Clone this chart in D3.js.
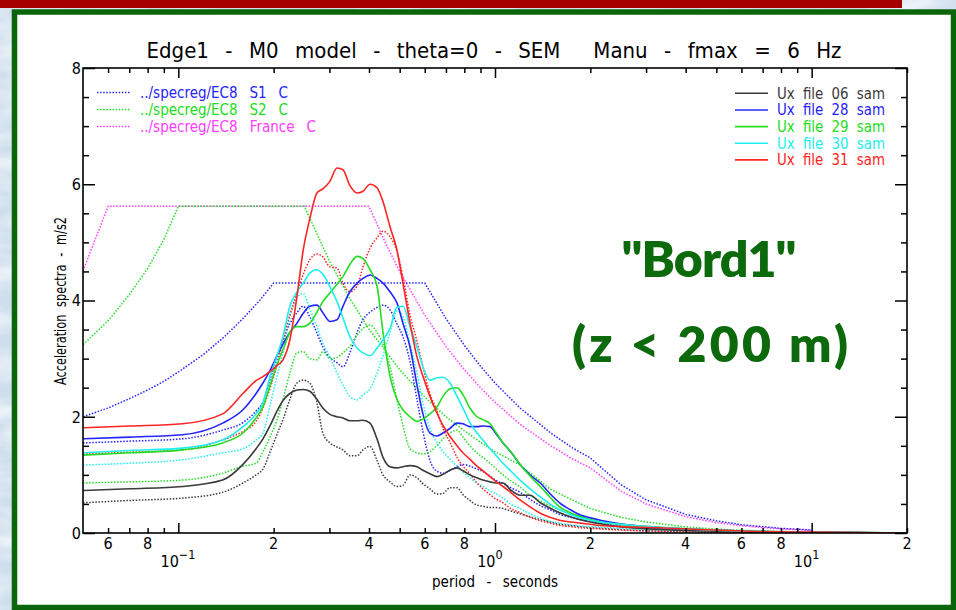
<!DOCTYPE html>
<html>
<head>
<meta charset="utf-8">
<script src="https://cdn.jsdelivr.net/npm/d3@7/dist/d3.min.js"></script>
<style>
  html, body { margin: 0; padding: 0; background: #d6e4f1; }
  svg { display: block; }
</style>
</head>
<body>
<svg id="chart" width="956" height="610"></svg>
<script>
// ---------------------------------------------------------------
// Response spectra, Edge1 / M0 model, receivers 06, 28, 29, 30, 31
// ---------------------------------------------------------------

// Period grid (s) shared by the computed spectra
const periods = [
  0.05, 0.0703, 0.103, 0.138, 0.160, 0.176, 0.185, 0.195, 0.205, 0.214,
  0.225, 0.237, 0.248, 0.260, 0.274, 0.286, 0.301, 0.317, 0.331, 0.348,
  0.367, 0.383, 0.403, 0.424, 0.443, 0.466, 0.490, 0.512, 0.539, 0.567,
  0.592, 0.623, 0.656, 0.685, 0.721, 0.759, 0.792, 0.833, 0.877, 0.916,
  0.964, 1.01, 1.06, 1.12, 1.20, 1.29, 1.39, 1.49, 1.60, 1.73,
  1.86, 2.00, 2.15, 2.48, 2.87, 3.32, 4.44, 6.38, 10.0, 20.0
];

// Solid = first component, dotted = second component (m/s2)
const s06 = [
  0.73, 0.76, 0.80, 0.91, 1.18, 1.45, 1.62, 1.85, 2.10, 2.28,
  2.40, 2.46, 2.47, 2.44, 2.30, 2.15, 2.04, 2.00, 1.98, 1.93,
  1.93, 1.94, 1.89, 1.62, 1.30, 1.14, 1.12, 1.14, 1.16, 1.14,
  1.08, 1.02, 0.97, 1.01, 1.08, 1.12, 1.07, 1.00, 0.95, 0.91,
  0.88, 0.86, 0.86, 0.74, 0.65, 0.65, 0.52, 0.43, 0.35, 0.28,
  0.23, 0.19, 0.16, 0.11, 0.08, 0.06, 0.04, 0.02, 0.01, 0.00
];
const d06 = [
  0.52, 0.56, 0.60, 0.70, 0.86, 1.00, 1.10, 1.40, 1.70, 1.95,
  2.30, 2.58, 2.63, 2.58, 2.24, 1.72, 1.55, 1.48, 1.43, 1.33,
  1.33, 1.43, 1.49, 1.25, 1.00, 0.88, 0.80, 0.82, 1.00, 0.95,
  0.85, 0.76, 0.67, 0.68, 0.78, 0.78, 0.66, 0.56, 0.48, 0.46,
  0.44, 0.44, 0.42, 0.38, 0.33, 0.28, 0.23, 0.19, 0.15, 0.13,
  0.11, 0.09, 0.08, 0.06, 0.04, 0.03, 0.02, 0.01, 0.005, 0.00
];
const s28 = [
  1.62, 1.65, 1.69, 1.89, 2.12, 2.40, 2.58, 2.80, 3.05, 3.25,
  3.45, 3.61, 3.78, 3.90, 3.92, 3.79, 3.64, 3.67, 3.90, 4.15,
  4.30, 4.38, 4.44, 4.38, 4.30, 4.15, 3.96, 3.61, 3.20, 2.55,
  2.05, 1.72, 1.67, 1.72, 1.80, 1.89, 1.88, 1.83, 1.83, 1.84,
  1.83, 1.70, 1.55, 1.40, 1.18, 1.00, 0.86, 0.68, 0.52, 0.40,
  0.31, 0.26, 0.22, 0.16, 0.12, 0.09, 0.06, 0.03, 0.015, 0.00
];
const d28 = [
  1.55, 1.58, 1.62, 1.77, 1.90, 2.10, 2.25, 2.65, 3.00, 3.30,
  3.60, 3.79, 3.90, 3.72, 3.44, 3.20, 3.02, 2.93, 2.86, 3.10,
  3.45, 3.67, 3.80, 3.88, 3.92, 3.84, 3.60, 3.38, 2.95, 2.30,
  1.75, 1.25, 1.06, 1.03, 1.08, 1.14, 1.18, 1.15, 1.10, 1.06,
  0.98, 0.90, 0.85, 0.78, 0.70, 0.58, 0.47, 0.40, 0.32, 0.27,
  0.23, 0.20, 0.17, 0.12, 0.09, 0.07, 0.04, 0.02, 0.01, 0.00
];
const s29 = [
  1.34, 1.38, 1.43, 1.55, 1.72, 1.98, 2.17, 2.55, 2.90, 3.15,
  3.45, 3.55, 3.55, 3.61, 3.80, 3.98, 4.13, 4.28, 4.41, 4.62,
  4.76, 4.72, 4.53, 4.25, 3.45, 2.70, 2.30, 2.12, 2.00, 1.92,
  1.96, 2.05, 2.17, 2.35, 2.48, 2.50, 2.38, 2.15, 2.00, 1.95,
  1.88, 1.72, 1.55, 1.40, 1.18, 0.98, 0.80, 0.62, 0.45, 0.35,
  0.28, 0.23, 0.19, 0.15, 0.12, 0.10, 0.06, 0.03, 0.015, 0.00
];
const d29 = [
  0.86, 0.88, 0.91, 1.03, 1.15, 1.20, 1.40, 1.66, 1.95, 2.30,
  2.75, 3.10, 3.12, 3.00, 2.98, 3.12, 3.00, 3.02, 3.10, 3.21,
  3.40, 3.52, 3.58, 3.45, 3.25, 2.86, 2.30, 1.85, 1.45, 1.38,
  1.36, 1.40, 1.51, 1.62, 1.72, 1.77, 1.65, 1.50, 1.38, 1.30,
  1.20, 1.10, 1.00, 0.90, 0.79, 0.65, 0.55, 0.47, 0.40, 0.34,
  0.29, 0.25, 0.21, 0.15, 0.11, 0.08, 0.05, 0.03, 0.01, 0.00
];
const s30 = [
  1.38, 1.42, 1.46, 1.60, 1.83, 2.05, 2.24, 2.70, 3.05, 3.38,
  3.90, 4.15, 4.30, 4.47, 4.53, 4.45, 4.24, 3.98, 3.70, 3.38,
  3.18, 3.10, 3.05, 3.18, 3.32, 3.52, 3.88, 3.90, 3.55, 3.20,
  2.86, 2.63, 2.67, 2.68, 2.58, 2.35, 2.15, 1.90, 1.72, 1.60,
  1.45, 1.33, 1.20, 1.07, 0.91, 0.76, 0.62, 0.50, 0.40, 0.32,
  0.26, 0.22, 0.19, 0.15, 0.12, 0.10, 0.06, 0.03, 0.015, 0.00
];
const d30 = [
  1.17, 1.20, 1.26, 1.38, 1.45, 1.60, 1.72, 2.20, 2.70, 3.10,
  3.70, 4.05, 4.12, 3.85, 3.55, 3.27, 3.03, 2.75, 2.55, 2.35,
  2.29, 2.38, 2.48, 2.75, 3.05, 3.45, 3.82, 3.72, 3.25, 2.75,
  2.24, 1.80, 1.55, 1.40, 1.27, 1.15, 1.05, 0.95, 0.86, 0.80,
  0.73, 0.67, 0.60, 0.50, 0.42, 0.33, 0.26, 0.20, 0.17, 0.14,
  0.12, 0.11, 0.10, 0.08, 0.06, 0.05, 0.03, 0.02, 0.01, 0.00
];
const s31 = [
  1.81, 1.84, 1.88, 2.05, 2.40, 2.62, 2.69, 2.78, 2.88, 2.98,
  3.32, 4.07, 4.87, 5.40, 5.85, 5.92, 6.05, 6.28, 6.25, 5.98,
  5.85, 5.88, 6.00, 5.94, 5.70, 5.27, 4.87, 4.30, 3.61, 3.03,
  2.70, 2.35, 2.06, 1.85, 1.66, 1.50, 1.38, 1.27, 1.15, 1.07,
  0.97, 0.88, 0.80, 0.70, 0.57, 0.45, 0.34, 0.27, 0.22, 0.19,
  0.17, 0.15, 0.13, 0.11, 0.10, 0.09, 0.06, 0.03, 0.015, 0.00
];
const d31 = [
  1.36, 1.39, 1.43, 1.60, 1.75, 1.92, 2.15, 2.50, 2.90, 3.30,
  3.75, 4.13, 4.45, 4.70, 4.80, 4.75, 4.58, 4.56, 4.30, 4.15,
  4.25, 4.58, 4.90, 5.08, 5.19, 5.10, 4.85, 4.41, 3.75, 3.30,
  2.86, 2.40, 2.10, 1.80, 1.56, 1.30, 1.15, 1.02, 0.86, 0.76,
  0.66, 0.58, 0.52, 0.42, 0.35, 0.27, 0.21, 0.17, 0.13, 0.11,
  0.09, 0.08, 0.07, 0.05, 0.04, 0.03, 0.02, 0.01, 0.01, 0.00
];

// Eurocode 8 design spectra (period s, acceleration m/s2)
const ec8S1T = [0.05, 0.06, 0.07, 0.08, 0.09, 0.10, 0.12, 0.14, 0.16, 0.18, 0.20, 0.60, 0.70, 0.80, 0.90, 1.0, 1.2, 1.5, 1.75, 2.0, 2.5, 3.0, 4.0, 5.0, 6.0, 8.0, 10.0];
const ec8S1A = [2.00, 2.15, 2.31, 2.46, 2.61, 2.77, 3.07, 3.38, 3.69, 3.99, 4.30, 4.30, 3.69, 3.23, 2.87, 2.58, 2.15, 1.72, 1.47, 1.29, 0.83, 0.57, 0.32, 0.21, 0.143, 0.08, 0.052];
const ec8S2T = [0.05, 0.06, 0.07, 0.08, 0.09, 0.10, 0.25, 0.30, 0.35, 0.40, 0.50, 0.60, 0.70, 0.80, 0.90, 1.0, 1.2, 1.5, 2.0, 2.5, 3.0, 4.0, 5.0, 6.0, 8.0, 10.0];
const ec8S2A = [3.24, 3.65, 4.10, 4.55, 5.05, 5.62, 5.62, 4.68, 4.01, 3.51, 2.81, 2.34, 2.00, 1.76, 1.56, 1.40, 1.17, 0.75, 0.42, 0.27, 0.19, 0.105, 0.067, 0.047, 0.026, 0.017];
const ec8FrT = [0.05, 0.06, 0.40, 0.45, 0.50, 0.60, 0.70, 0.80, 0.90, 1.0, 1.2, 1.5, 1.75, 2.0, 2.5, 3.0, 4.0, 5.0, 6.0, 8.0, 10.0];
const ec8FrA = [4.51, 5.62, 5.62, 5.00, 4.50, 3.75, 3.21, 2.81, 2.50, 2.25, 1.87, 1.50, 1.28, 1.12, 0.72, 0.50, 0.28, 0.18, 0.125, 0.07, 0.045];

const ec8Labels = ["../specreg/EC8 S1 C", "../specreg/EC8 S2 C", "../specreg/EC8 France C"];
const samLabels = ["Ux file 06 sam", "Ux file 28 sam", "Ux file 29 sam", "Ux file 30 sam", "Ux file 31 sam"];

// Axis ticks
const xMajor = [0.1, 1, 10];
const xMajorExp = ["\u22121", "0", "1"];
const xMinor = [0.06, 0.07, 0.08, 0.09, 0.2, 0.3, 0.4, 0.5, 0.6, 0.7, 0.8, 0.9, 2, 3, 4, 5, 6, 7, 8, 9, 20];
const xMinorLabeled = [0.06, 0.08, 0.2, 0.4, 0.6, 0.8, 2, 4, 6, 8, 20];
const xMinorText = ["6", "8", "2", "4", "6", "8", "2", "4", "6", "8", "2"];
const yMajor = [0, 2, 4, 6, 8];
const yMinor = [0.5, 1, 1.5, 2.5, 3, 3.5, 4.5, 5, 5.5, 6.5, 7, 7.5];

// ---------------------------------------------------------------
const COL = { black: "#3a3a3a", blue: "#2424ff", green: "#22dd22", cyan: "#1eeeee", red: "#ff2424", magenta: "#ff3cff" };
const NARROW = "'Liberation Sans Narrow','DejaVu Sans Condensed','Roboto Condensed','Liberation Sans',sans-serif";

const svg = d3.select("#chart");
const defs = svg.append("defs");

// slide background with a soft mottled texture
const f = defs.append("filter").attr("id", "mottle").attr("x", 0).attr("y", 0).attr("width", 1).attr("height", 1);
f.append("feTurbulence").attr("type", "fractalNoise").attr("baseFrequency", "0.018 0.045").attr("numOctaves", 3).attr("seed", 7);
f.append("feColorMatrix").attr("type", "matrix")
  .attr("values", "0 0 0 0 1  0 0 0 0 1  0 0 0 0 1  1.4 0 0 0 -0.5");
svg.append("rect").attr("width", 956).attr("height", 610).attr("fill", "#cfdeed");
svg.append("rect").attr("width", 956).attr("height", 610).attr("filter", "url(#mottle)");

// red header bar
svg.append("rect").attr("x", 0).attr("y", 0).attr("width", 902).attr("height", 8).attr("fill", "#a50000");

// white panel with green frame
svg.append("rect").attr("x", 14.5).attr("y", 12).attr("width", 939).attr("height", 595.5)
  .attr("fill", "#ffffff").attr("stroke", "#0b650b").attr("stroke-width", 5.5);

// scales
const x = d3.scaleLog().domain([0.05, 20]).range([83, 907]);
const y = d3.scaleLinear().domain([0, 8]).range([533, 68]);

defs.append("clipPath").attr("id", "plotclip").append("rect")
  .attr("x", 83).attr("y", 68).attr("width", 824).attr("height", 465);

// ---------------------------------------------------------------
// curves
const lineT = d3.line().x(d => x(d[0])).y(d => y(d[1])).curve(d3.curveMonotoneX);
const lineLin = d3.line().x(d => x(d[0])).y(d => y(d[1]));
const plot = svg.append("g").attr("clip-path", "url(#plotclip)");

const dotted = "1.5 1.6";
const ec8 = [
  { t: ec8FrT, a: ec8FrA, c: COL.magenta },
  { t: ec8S1T, a: ec8S1A, c: COL.blue },
  { t: ec8S2T, a: ec8S2A, c: COL.green }
];
ec8.forEach(s => {
  plot.append("path").datum(d3.zip(s.t, s.a)).attr("d", lineLin)
    .attr("fill", "none").attr("stroke", s.c).attr("stroke-width", 1.5).attr("stroke-dasharray", dotted);
});

const sam = [
  { s: s06, d: d06, c: COL.black },
  { s: s28, d: d28, c: COL.blue },
  { s: s29, d: d29, c: COL.green },
  { s: s30, d: d30, c: COL.cyan },
  { s: s31, d: d31, c: COL.red }
];
sam.forEach(r => {
  plot.append("path").datum(d3.zip(periods, r.d)).attr("d", lineT)
    .attr("fill", "none").attr("stroke", r.c).attr("stroke-width", 1.5).attr("stroke-dasharray", dotted);
});
sam.forEach(r => {
  plot.append("path").datum(d3.zip(periods, r.s)).attr("d", lineT)
    .attr("fill", "none").attr("stroke", r.c).attr("stroke-width", 1.6);
});

// ---------------------------------------------------------------
// axes (IDL style: ticks inside on all four sides)
function clean(g) {
  g.select(".domain").remove();
  g.selectAll(".tick line").attr("stroke", "#000").attr("stroke-width", 1.5);
  g.selectAll(".tick text").remove();
}
svg.append("g").attr("transform", "translate(0,533)").call(d3.axisBottom(x).tickValues(xMajor).tickSize(-10).tickFormat("")).call(clean);
svg.append("g").attr("transform", "translate(0,533)").call(d3.axisBottom(x).tickValues(xMinor).tickSize(-5).tickFormat("")).call(clean);
svg.append("g").attr("transform", "translate(0,68)").call(d3.axisTop(x).tickValues(xMajor).tickSize(-10).tickFormat("")).call(clean);
svg.append("g").attr("transform", "translate(0,68)").call(d3.axisTop(x).tickValues(xMinor).tickSize(-5).tickFormat("")).call(clean);
svg.append("g").attr("transform", "translate(83,0)").call(d3.axisLeft(y).tickValues(yMajor).tickSize(-12).tickFormat("")).call(clean);
svg.append("g").attr("transform", "translate(83,0)").call(d3.axisLeft(y).tickValues(yMinor).tickSize(-6).tickFormat("")).call(clean);
svg.append("g").attr("transform", "translate(907,0)").call(d3.axisRight(y).tickValues(yMajor).tickSize(-12).tickFormat("")).call(clean);
svg.append("g").attr("transform", "translate(907,0)").call(d3.axisRight(y).tickValues(yMinor).tickSize(-6).tickFormat("")).call(clean);

svg.append("rect").attr("x", 83).attr("y", 68).attr("width", 824).attr("height", 465)
  .attr("fill", "none").attr("stroke", "#000").attr("stroke-width", 1.6);

// tick labels
const lab = svg.append("g").attr("font-family", NARROW).attr("fill", "#000");
lab.selectAll(".xm").data(d3.zip(xMinorLabeled, xMinorText)).join("text")
  .attr("x", d => x(d[0])).attr("y", 549).attr("text-anchor", "middle").attr("font-size", 16).text(d => d[1]);
const dec = lab.selectAll(".xd").data(d3.zip(xMajor, xMajorExp)).join("g");
dec.append("text").attr("x", d => x(d[0]) + 0.5).attr("y", 567).attr("text-anchor", "end").attr("font-size", 16).text("10");
dec.append("text").attr("x", d => x(d[0]) + 0.5).attr("y", 559).attr("text-anchor", "start").attr("font-size", 12.5).text(d => d[1]);
lab.selectAll(".ym").data(yMajor).join("text")
  .attr("x", 81).attr("y", d => y(d)).attr("dy", "0.36em").attr("text-anchor", "end").attr("font-size", 16).text(d => d);

// fit a label to a given width: widen the gaps between words, or
// squeeze the glyphs when the words alone are already too wide
function fitTo(sel, target, minGap) {
  sel.each(function () {
    const el = d3.select(this);
    el.style("word-spacing", "0px");
    const n = this.getComputedTextLength();
    const gaps = (this.textContent.match(/ /g) || []).length;
    const ws = gaps > 0 ? (target - n) / gaps : 0;
    if (ws >= (minGap || 0)) {
      el.style("word-spacing", ws + "px");
    } else {
      el.style("word-spacing", (minGap || 0) + "px");
      el.attr("textLength", target).attr("lengthAdjust", "spacingAndGlyphs");
    }
  });
}

// titles
svg.append("text").attr("x", 494).attr("y", 58).attr("text-anchor", "middle")
  .attr("font-family", NARROW).attr("font-size", 22).style("white-space", "pre")
  .text("Edge1 - M0 model - theta=0 - SEM  Manu - fmax = 6 Hz").call(fitTo, 695, 4);
svg.append("text").attr("x", 495).attr("y", 587).attr("text-anchor", "middle")
  .attr("font-family", NARROW).attr("font-size", 15).style("white-space", "pre")
  .text("period - seconds").call(fitTo, 126, 4);
svg.append("text").attr("transform", "translate(66,301) rotate(-90)").attr("text-anchor", "middle")
  .attr("font-family", NARROW).attr("font-size", 15).style("white-space", "pre")
  .text("Acceleration spectra - m/s2").call(fitTo, 168, 5);

// legend of design spectra (upper left)
const ec8Col = [COL.blue, COL.green, COL.magenta];
const ec8Width = [148, 148, 176];
ec8Labels.forEach((t, i) => {
  const yy = 92.5 + i * 17;
  svg.append("line").attr("x1", 97).attr("x2", 130).attr("y1", yy).attr("y2", yy)
    .attr("stroke", ec8Col[i]).attr("stroke-width", 1.5).attr("stroke-dasharray", dotted);
  svg.append("text").attr("x", 140).attr("y", yy + 5.5).attr("font-family", NARROW).attr("font-size", 15)
    .style("white-space", "pre").attr("fill", ec8Col[i]).text(t).call(fitTo, ec8Width[i], 4);
});

// legend of receivers (upper right)
samLabels.forEach((t, i) => {
  const yy = 93.3 + i * 16.65;
  svg.append("line").attr("x1", 735).attr("x2", 768).attr("y1", yy).attr("y2", yy)
    .attr("stroke", sam[i].c).attr("stroke-width", 1.6);
  svg.append("text").attr("x", 777).attr("y", yy + 5.3).attr("font-family", NARROW).attr("font-size", 15)
    .style("white-space", "pre").attr("fill", sam[i].c).text(t).call(fitTo, 108, 4);
});

// annotation
const ann = svg.append("g").attr("font-family", "Lato, 'Open Sans', sans-serif").attr("font-weight", 800)
  .attr("fill", "#0c6a0c").attr("text-anchor", "middle").attr("font-size", 50);
ann.append("text").attr("x", 709).attr("y", 277).attr("textLength", 175).attr("lengthAdjust", "spacing").text("\"Bord1\"");
ann.append("text").attr("x", 710).attr("y", 362).attr("textLength", 276).attr("lengthAdjust", "spacing").text("(z < 200 m)");
</script>
</body>
</html>
